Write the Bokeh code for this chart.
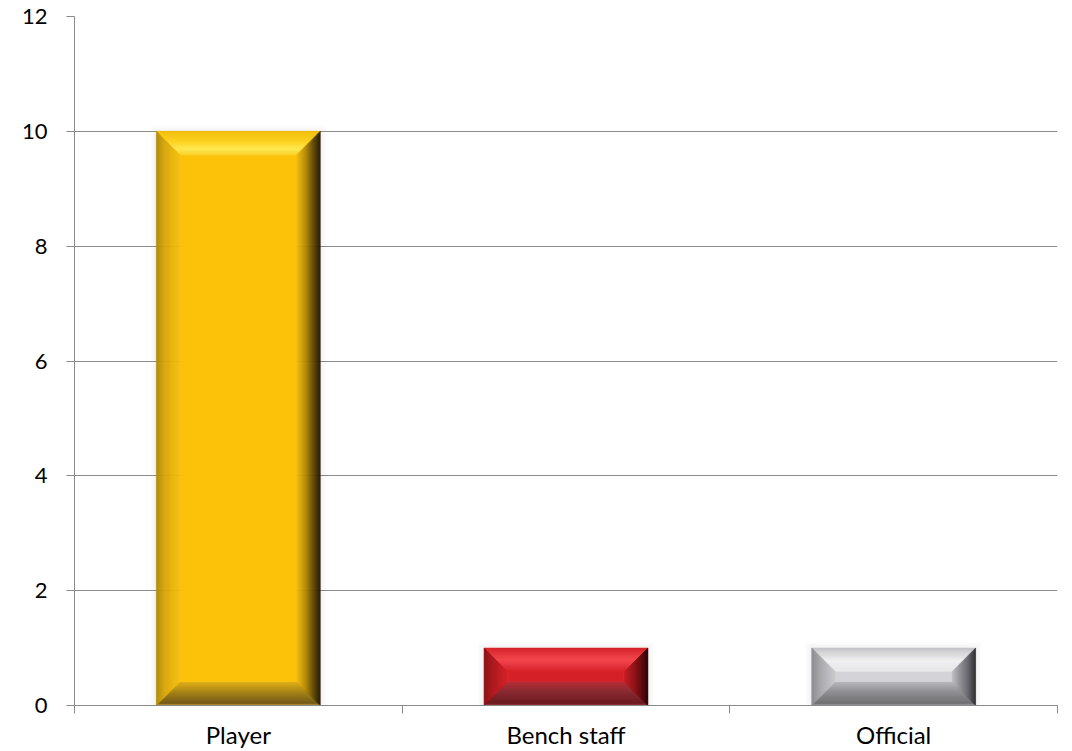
from bokeh.plotting import figure
from bokeh.models import Range1d, FixedTicker
from bokeh.embed import file_html
from bokeh.resources import INLINE

# ---- data ----
categories = ["Player", "Bench staff", "Official"]
counts = [10, 1, 1]
y_ticks = [0, 2, 4, 6, 8, 10, 12]

# ---- styles (per bar) ----
face_colors = ["#FCC20A", "#D62027", "#D4D4D8"]
bevel_stops = [
    {  # yellow
        "top": [(0, "#F4BE06"), (0.45, "#FFD21C"), (0.75, "#FFEA4C"), (1, "#FDD024")],
        "left": [(0, "#B08A04"), (0.35, "#D8A606"), (1, "#FAC10A")],
        "right": [(0, "#1A1300"), (0.3, "#5E4700"), (0.65, "#B88C02"), (1, "#F2BA08")],
        "bottom": [(0, "#E0B434"), (0.1, "#6E5410"), (0.5, "#9A780C"), (1, "#E0AC0C")],
    },
    {  # red
        "top": [(0, "#D4242A"), (0.5, "#F4474E"), (0.8, "#E2313A"), (1, "#D82228")],
        "left": [(0, "#8A1014"), (0.4, "#B0181D"), (1, "#D42027")],
        "right": [(0, "#260203"), (0.35, "#6E0A0E"), (1, "#C81C22")],
        "bottom": [(0, "#B04048"), (0.1, "#661216"), (0.6, "#86222A"), (1, "#B2262D")],
    },
    {  # silver
        "top": [(0, "#C4C4C8"), (0.55, "#F2F2F4"), (1, "#E6E6E8")],
        "left": [(0, "#88888C"), (0.4, "#A8A8AC"), (1, "#CACACE")],
        "right": [(0, "#262628"), (0.35, "#66666C"), (1, "#BEBEC2")],
        "bottom": [(0, "#B0B0B4"), (0.1, "#6A6A6E"), (0.6, "#8C8C90"), (1, "#B6B6BA")],
    },
]

FONT = "Lato"
W, H = 1072, 751
frame_w, frame_h = 983, 689
bevel_px = 24
bar_width = 0.5


def hex2rgb(h):
    h = h.lstrip("#")
    return tuple(int(h[i:i + 2], 16) for i in (0, 2, 4))


def interp(stops, t):
    for (t0, c0), (t1, c1) in zip(stops[:-1], stops[1:]):
        if t0 <= t <= t1:
            f = 0 if t1 == t0 else (t - t0) / (t1 - t0)
            a, b = hex2rgb(c0), hex2rgb(c1)
            return "#%02x%02x%02x" % tuple(round(a[i] + (b[i] - a[i]) * f) for i in range(3))
    return stops[-1][1]


p = figure(width=W, height=H, output_backend="svg", toolbar_location=None,
           x_range=Range1d(0, len(categories)), y_range=Range1d(0, y_ticks[-1]),
           min_border_left=74, min_border_top=16, min_border_right=15, min_border_bottom=46)
p.outline_line_color = None
p.background_fill_color = "white"
p.border_fill_color = "white"

px_x = len(categories) / frame_w
px_y = y_ticks[-1] / frame_h

# soft shadows
for k in range(6, 0, -1):
    lefts, rights, tops = [], [], []
    for i, v in enumerate(counts):
        c = i + 0.5
        lefts.append(c - bar_width / 2 - k * px_x)
        rights.append(c + bar_width / 2 + k * px_x)
        tops.append(v + k * px_y)
    p.quad(left=lefts, right=rights, top=tops, bottom=[0] * len(counts),
           fill_color="#808080", fill_alpha=0.018, line_color=None)

xs, ys, fills = [], [], []
N = 24
for i, v in enumerate(counts):
    c = i + 0.5
    x0, x1 = c - bar_width / 2, c + bar_width / 2
    y0, y1 = 0, v
    dx = bevel_px * px_x
    dy = min(bevel_px * px_y, 0.45 * v)
    st = bevel_stops[i]
    for k in range(N):
        a, b = k / N, (k + 1) / N
        tm = (a + b) / 2
        xs.append([x0 + a * dx, x1 - a * dx, x1 - b * dx, x0 + b * dx])
        ys.append([y1 - a * dy, y1 - a * dy, y1 - b * dy, y1 - b * dy])
        fills.append(interp(st["top"], tm))
        xs.append([x0 + a * dx, x1 - a * dx, x1 - b * dx, x0 + b * dx])
        ys.append([y0 + a * dy, y0 + a * dy, y0 + b * dy, y0 + b * dy])
        fills.append(interp(st["bottom"], tm))
        xs.append([x0 + a * dx, x0 + a * dx, x0 + b * dx, x0 + b * dx])
        ys.append([y0 + a * dy, y1 - a * dy, y1 - b * dy, y0 + b * dy])
        fills.append(interp(st["left"], tm))
        xs.append([x1 - a * dx, x1 - a * dx, x1 - b * dx, x1 - b * dx])
        ys.append([y0 + a * dy, y1 - a * dy, y1 - b * dy, y0 + b * dy])
        fills.append(interp(st["right"], tm))
    xs.append([x0 + dx, x1 - dx, x1 - dx, x0 + dx])
    ys.append([y0 + dy, y0 + dy, y1 - dy, y1 - dy])
    fills.append(face_colors[i])

p.patches(xs=xs, ys=ys, fill_color=fills, line_color=fills, line_width=0.6)

# grid
p.xgrid.visible = False
p.ygrid.ticker = FixedTicker(ticks=y_ticks)
p.ygrid.grid_line_color = "#8A8A8A"
p.ygrid.grid_line_width = 1

# y axis
ya = p.yaxis[0]
ya.ticker = FixedTicker(ticks=y_ticks)
ya.axis_line_color = "#8A8A8A"
ya.major_tick_line_color = "#8A8A8A"
ya.major_tick_out = 8
ya.major_tick_in = 0
ya.minor_tick_line_color = None
ya.major_label_standoff = 19
ya.major_label_text_font = FONT
ya.major_label_text_font_size = "22px"
ya.major_label_text_color = "#000000"

# x axis
xa = p.xaxis[0]
centers = [i + 0.5 for i in range(len(categories))]
xa.ticker = FixedTicker(ticks=centers, minor_ticks=list(range(len(categories) + 1)))
xa.major_label_overrides = {c: name for c, name in zip(centers, categories)}
xa.axis_line_color = "#8A8A8A"
xa.major_tick_line_color = None
xa.major_tick_out = 0
xa.major_tick_in = 0
xa.minor_tick_line_color = "#8A8A8A"
xa.minor_tick_out = 8
xa.minor_tick_in = 0
xa.major_label_standoff = 6
xa.major_label_text_font = FONT
xa.major_label_text_font_size = "24px"
xa.major_label_text_color = "#000000"

open("out.html", "w").write(file_html(p, INLINE))
